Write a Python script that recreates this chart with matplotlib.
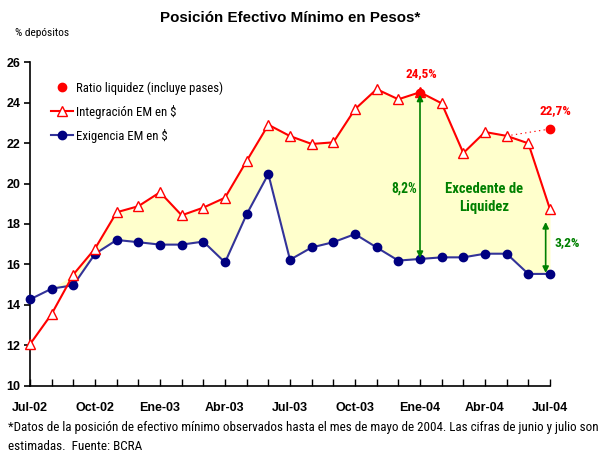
import os
import numpy as np
import matplotlib.pyplot as plt
from matplotlib.lines import Line2D
from matplotlib import font_manager
from matplotlib.font_manager import FontProperties

# =========================
# DATA
# =========================
months = list(range(25))  # Jul-02 ... Jul-04
tick_pos = [0, 3, 6, 9, 12, 15, 18, 21, 24]
tick_labels = ["Jul-02", "Oct-02", "Ene-03", "Abr-03", "Jul-03",
               "Oct-03", "Ene-04", "Abr-04", "Jul-04"]

integracion = [12.05, 13.55, 15.5, 16.78, 18.58, 18.88, 19.57, 18.43, 18.81,
               19.3, 21.12, 22.91, 22.35, 21.96, 22.04, 23.68, 24.67, 24.17,
               24.52, 23.97, 21.51, 22.55, 22.36, 21.99, 18.73]
exigencia = [14.27, 14.8, 14.97, 16.52, 17.21, 17.1, 16.98, 16.98, 17.13,
             16.1, 18.48, 20.47, 16.23, 16.84, 17.1, 17.5, 16.84, 16.19,
             16.27, 16.35, 16.35, 16.53, 16.53, 15.53, 15.53]
ratio_idx = [18, 24]
ratio_vals = [24.5, 22.7]
ratio_labels = ["24,5%", "22,7%"]

# =========================
# FONTS: look for a narrow sans face (regular + bold)
# =========================
def narrow_font(weight):
    best = None
    for f in font_manager.fontManager.ttflist:
        base = os.path.basename(f.fname)
        nm = f.name
        if "Mono" in nm or "Serif" in nm or f.style != "normal":
            continue
        if not ("Narrow" in nm or "Condensed" in nm or "Condensed" in base
                or "Narrow" in base or str(f.stretch) == "condensed"):
            continue
        if abs(int(f.weight) - weight) > 50:
            continue
        rank = 0
        for bad in ("Extra", "Semi", "Ultra", "Light", "Medium", "Black", "Thin"):
            if bad in base:
                rank += 1
        if "Liberation" in nm or "Roboto" in nm or "Noto" in nm:
            rank -= 0.5
        if best is None or rank < best[0]:
            best = (rank, f.fname)
    return best[1] if best else None


reg_path = narrow_font(400)
bold_path = narrow_font(700)
if reg_path and bold_path:
    def NFP(bold=False):
        return FontProperties(fname=bold_path if bold else reg_path)
else:
    def NFP(bold=False):
        return FontProperties(family=["Liberation Sans", "DejaVu Sans"],
                              weight="bold" if bold else "normal")
ARIAL = ["Liberation Sans", "DejaVu Sans"]

RED = "#FF0000"
NAVY = "#000080"
NAVY_LINE = "#333399"
GREEN = "#008000"

fig = plt.figure(figsize=(5.99, 4.53), dpi=100)
ax = fig.add_axes([30 / 599, 1 - 385.7 / 453, 520 / 599, 323.4 / 453])

# shaded area: between exigencia and the higher of the two series
upper = np.maximum(integracion, exigencia)
ax.fill_between(months, exigencia, upper, color="#FFFFCC", lw=0, zorder=1)

ax.plot(months, exigencia, color=NAVY_LINE, lw=1.5, marker="o", ms=6,
        mfc=NAVY, mec=NAVY, zorder=3, clip_on=False)
ax.plot(months, integracion, color=RED, lw=1.5, marker="^", ms=6.5,
        mfc="white", mec=RED, mew=1.0, zorder=4, clip_on=False)

# dotted link to the last ratio point
ax.plot([22, 24], [integracion[22], ratio_vals[1]], color=RED, lw=0.8,
        ls=(0, (1.2, 3)), zorder=3)
ax.plot(ratio_idx, ratio_vals, ls="none", marker="o", ms=6, color=RED,
        zorder=5, clip_on=False)

fit = []  # (text, target width in px)
lab_x = [18.05, 24.25]
for x, v, lab in zip(lab_x, ratio_vals, ratio_labels):
    t = ax.text(x, v + 0.93, lab, color=RED, ha="center", va="center",
                fontproperties=NFP(True))
    fit.append((t, 32))

# green arrows
arrow = dict(arrowstyle="<|-|>", color=GREEN, lw=1.2, shrinkA=0, shrinkB=0,
             mutation_scale=9)
ax.annotate("", xy=(18, ratio_vals[0] - 0.1), xytext=(18, exigencia[18] + 0.05),
            arrowprops=arrow, zorder=6)
ax.annotate("", xy=(23.8, 18.1), xytext=(23.8, exigencia[24] + 0.05),
            arrowprops=arrow, zorder=6)
t = ax.text(17.85, 19.77, "8,2%", color=GREEN, ha="right", va="center",
            fontproperties=NFP(True))
fit.append((t, 25.5))
t = ax.text(24.2, 17.08, "3,2%", color=GREEN, ha="left", va="center",
            fontproperties=NFP(True))
fit.append((t, 25.5))
t = ax.text(20.97, 19.3, "Excedente de\nLiquidez", color=GREEN, ha="center",
            va="center", linespacing=1.4, fontproperties=NFP(True))
fit.append((t, 78))

# axes
ax.set_xlim(0, 24)
ax.set_ylim(10, 26)
ax.set_yticks(np.arange(10, 27, 2))
ax.set_xticks(tick_pos)
ax.set_xticks(months, minor=True)
ax.set_xticklabels(tick_labels)
for s in ["top", "right"]:
    ax.spines[s].set_visible(False)
for s in ["left", "bottom"]:
    ax.spines[s].set_linewidth(1.2)
ax.tick_params(axis="y", direction="out", length=4, width=1.2, pad=3,
               labelsize=9)
ax.tick_params(axis="x", which="both", direction="in", length=5, width=1.0,
               pad=12, labelsize=9)
for lab in ax.get_xticklabels() + ax.get_yticklabels():
    lab.set_fontweight("bold")
    lab.set_family(ARIAL)

# legend
handles = [
    Line2D([], [], ls="none", marker="o", ms=6, color=RED),
    Line2D([], [], color=RED, lw=1.5, marker="^", ms=6.5, mfc="white", mec=RED),
    Line2D([], [], color=NAVY_LINE, lw=1.5, marker="o", ms=6, mfc=NAVY, mec=NAVY),
]
labels = ["Ratio liquidez (incluye pases)", "Integración EM en $", "Exigencia EM en $"]
leg_fp = NFP(False)
leg_fp.set_size(10)
leg = ax.legend(handles, labels, loc="upper left", bbox_to_anchor=(0.016, 0.978),
                frameon=False, handlelength=1.6, handletextpad=0.2,
                labelspacing=0.7, prop=leg_fp)

# texts
t = fig.text(290 / 599, 1 - 18 / 453, "Posición Efectivo Mínimo en Pesos*",
             ha="center", va="center", fontsize=10.5, fontweight="bold",
             family=ARIAL)
fit.append((t, 260))
t = fig.text(15 / 599, 1 - 33 / 453, "% depósitos", ha="left", va="center",
             fontproperties=NFP(False))
fit.append((t, 54))
t = fig.text(8 / 599, 1 - 428 / 453,
             "*Datos de la posición de efectivo mínimo observados hasta el mes de "
             "mayo de 2004. Las cifras de junio y julio son",
             ha="left", va="center", fontproperties=NFP(False))
fit.append((t, 586))
t = fig.text(8 / 599, 1 - 447 / 453, "estimadas.  Fuente: BCRA",
             ha="left", va="center", fontproperties=NFP(False))
fit.append((t, 135))

# scale font sizes so text widths match the reference (two passes)
renderer = fig.canvas.get_renderer()
for _ in range(3):
    for t, w in fit:
        bb = t.get_window_extent(renderer)
        t.set_fontsize(t.get_fontsize() * w / bb.width)
leg_texts = leg.get_texts()
for _ in range(3):
    bb = leg_texts[0].get_window_extent(renderer)
    leg_size = leg_texts[0].get_fontsize() * 147 / bb.width
    for lt in leg_texts:
        lt.set_fontsize(leg_size)

fig.savefig("out.png", dpi=100)
